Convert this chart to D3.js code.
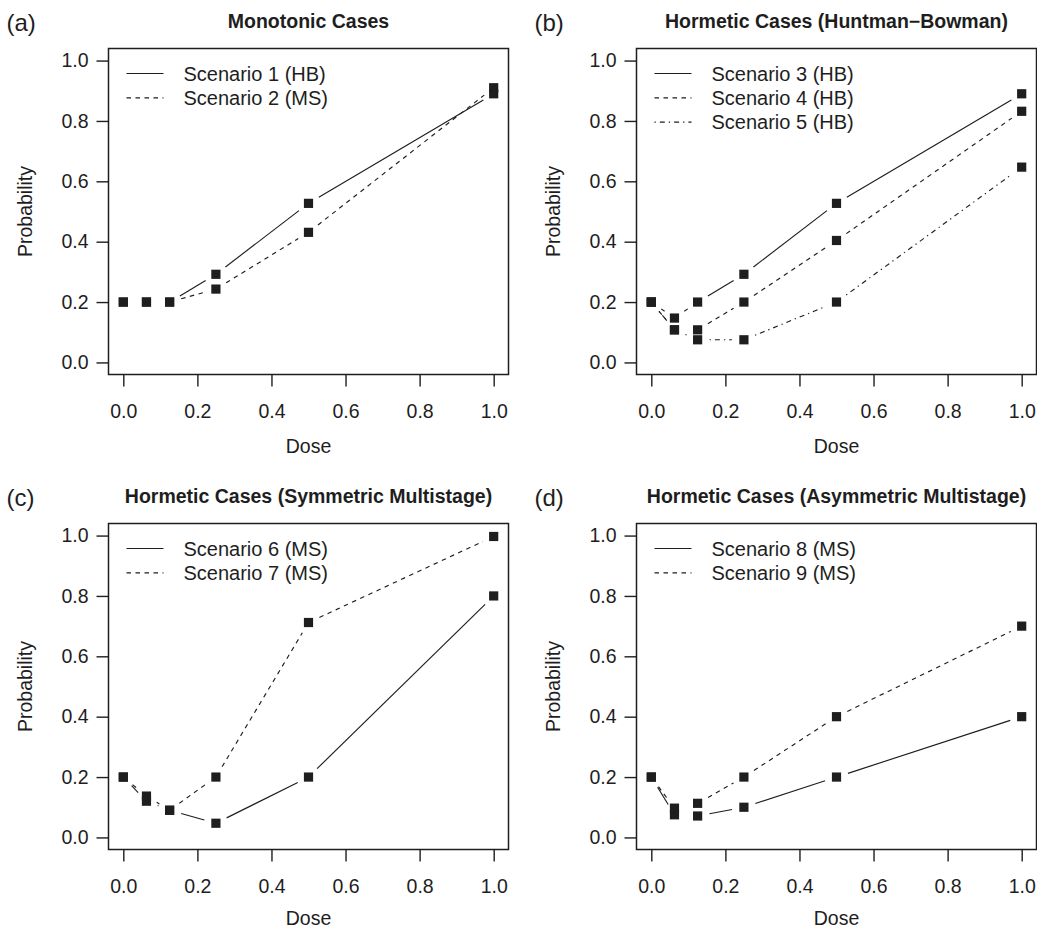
<!DOCTYPE html>
<html>
<head>
<meta charset="utf-8">
<script src="https://cdn.jsdelivr.net/npm/d3@7"></script>
<style>
html,body{margin:0;padding:0;background:#fff;}
svg{display:block;font-family:"Liberation Sans",Arial,Helvetica,sans-serif;}
</style>
</head>
<body>
<svg id="chart" width="1037" height="929"></svg>
<script>
// ---- data ----
const doses = [0, 0.0625, 0.125, 0.25, 0.5, 1.0];
const xTicks = [0, 0.2, 0.4, 0.6, 0.8, 1.0];
const yTicks = [0, 0.2, 0.4, 0.6, 0.8, 1.0];

const scenario1 = [0.2, 0.2, 0.2, 0.292, 0.527, 0.89];
const scenario2 = [0.2, 0.2, 0.2, 0.243, 0.431, 0.91];
const scenario3 = [0.2, 0.147, 0.2, 0.292, 0.527, 0.89];
const scenario4 = [0.2, 0.108, 0.108, 0.2, 0.404, 0.832];
const scenario5 = [0.2, 0.108, 0.075, 0.075, 0.2, 0.647];
const scenario6 = [0.2, 0.12, 0.09, 0.047, 0.2, 0.8];
const scenario7 = [0.2, 0.137, 0.09, 0.2, 0.712, 0.997];
const scenario8 = [0.2, 0.075, 0.071, 0.1, 0.2, 0.4];
const scenario9 = [0.2, 0.097, 0.113, 0.2, 0.4, 0.7];

const panelLetters = ["(a)", "(b)", "(c)", "(d)"];
const panelTitles = ["Monotonic Cases", "Hormetic Cases (Huntman\u2212Bowman)",
  "Hormetic Cases (Symmetric Multistage)", "Hormetic Cases (Asymmetric Multistage)"];
const panelSeries = [
  [{name: "Scenario 1 (HB)", values: scenario1, lty: "solid"},
   {name: "Scenario 2 (MS)", values: scenario2, lty: "dashed"}],
  [{name: "Scenario 3 (HB)", values: scenario3, lty: "solid"},
   {name: "Scenario 4 (HB)", values: scenario4, lty: "dashed"},
   {name: "Scenario 5 (HB)", values: scenario5, lty: "dotdash"}],
  [{name: "Scenario 6 (MS)", values: scenario6, lty: "solid"},
   {name: "Scenario 7 (MS)", values: scenario7, lty: "dashed"}],
  [{name: "Scenario 8 (MS)", values: scenario8, lty: "solid"},
   {name: "Scenario 9 (MS)", values: scenario9, lty: "dashed"}]
];
const xLabel = "Dose", yLabel = "Probability";

// ---- layout ----
const boxW = 400, boxH = 326;
const boxLefts = [108.5, 636.5], boxTops = [48.5, 523.5];
const xLabelOffsets = [78, 75.5];
const ink = "#1e1e1e";
const dashes = {solid: null, dashed: "4.5,4.5", dotdash: "1.3,4,5,4"};
const gap = 12;
const fs = 19.5;

const svg = d3.select("#chart");

panelTitles.forEach((title, i) => {
  const row = Math.floor(i / 2);
  const left = boxLefts[i % 2], top = boxTops[row];
  const x = d3.scaleLinear().domain([-0.04, 1.04]).range([left, left + boxW]);
  const y = d3.scaleLinear().domain([-0.04, 1.04]).range([top + boxH, top]);
  const g = svg.append("g");

  // box
  g.append("rect").attr("x", left).attr("y", top).attr("width", boxW).attr("height", boxH)
    .attr("fill", "none").attr("stroke", ink).attr("stroke-width", 1.5);

  // x axis
  const xa = g.append("g").attr("transform", `translate(0,${top + boxH})`)
    .call(d3.axisBottom(x).tickValues(xTicks).tickFormat(d3.format(".1f")).tickSize(12).tickPadding(18));
  xa.select(".domain").remove();
  xa.selectAll("line").attr("stroke", ink).attr("stroke-width", 1.4);
  xa.selectAll("text").attr("font-size", fs).attr("fill", ink).attr("font-family", null);

  // y axis
  const ya = g.append("g").attr("transform", `translate(${left},0)`)
    .call(d3.axisLeft(y).tickValues(yTicks).tickFormat(d3.format(".1f")).tickSize(12).tickPadding(8));
  ya.select(".domain").remove();
  ya.selectAll("line").attr("stroke", ink).attr("stroke-width", 1.4);
  ya.selectAll("text").attr("font-size", fs).attr("fill", ink).attr("font-family", null);

  // axis titles
  g.append("text").attr("x", left + boxW / 2).attr("y", top + boxH + xLabelOffsets[row])
    .attr("text-anchor", "middle").attr("font-size", fs).attr("fill", ink).text(xLabel);
  g.append("text").attr("transform", `translate(${left - 77},${top + boxH / 2}) rotate(-90)`)
    .attr("text-anchor", "middle").attr("font-size", fs).attr("fill", ink).text(yLabel);

  // title & letter
  g.append("text").attr("x", left + boxW / 2).attr("y", top - 20.5)
    .attr("text-anchor", "middle").attr("font-size", 19.5).attr("font-weight", "bold")
    .attr("fill", ink).text(title);
  g.append("text").attr("x", left - 102).attr("y", top - 18)
    .attr("font-size", 24).attr("fill", ink).text(panelLetters[i]);

  // series (R type = "b": segments with gaps around points)
  const line = d3.line();
  panelSeries[i].forEach(s => {
    const pts = doses.map((d, k) => [x(d), y(s.values[k])]);
    for (let k = 0; k < pts.length - 1; k++) {
      const [x0, y0] = pts[k], [x1, y1] = pts[k + 1];
      const len = Math.hypot(x1 - x0, y1 - y0);
      if (len <= 2 * gap) continue;
      const ux = (x1 - x0) / len, uy = (y1 - y0) / len;
      g.append("path")
        .attr("d", line([[x0 + ux * gap, y0 + uy * gap], [x1 - ux * gap, y1 - uy * gap]]))
        .attr("fill", "none").attr("stroke", ink).attr("stroke-width", 1.15)
        .attr("stroke-dasharray", dashes[s.lty]);
    }
    g.selectAll(null).data(doses).enter().append("rect")
      .attr("x", (d) => x(d) - 4.6).attr("y", (d, k) => y(s.values[k]) - 4.6)
      .attr("width", 9.2).attr("height", 9.2).attr("fill", ink);
  });

  // legend
  panelSeries[i].forEach((s, k) => {
    const ly = top + 25 + k * 24.3;
    g.append("path").attr("d", line([[left + 18, ly], [left + 55, ly]]))
      .attr("stroke", ink).attr("stroke-width", 1.15).attr("fill", "none")
      .attr("stroke-dasharray", dashes[s.lty]);
    g.append("text").attr("x", left + 75).attr("y", ly).attr("dy", "0.36em")
      .attr("font-size", 20).attr("fill", ink).text(s.name);
  });
});
</script>
</body>
</html>
